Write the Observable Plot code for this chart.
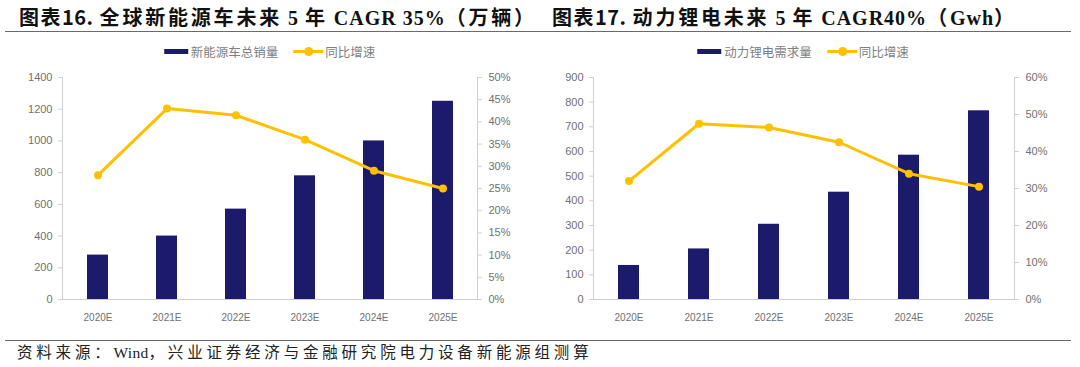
<!DOCTYPE html>
<html>
<head>
<meta charset="utf-8">
<script src="https://cdn.jsdelivr.net/npm/d3@7"></script>
<script src="https://cdn.jsdelivr.net/npm/@observablehq/plot@0.6"></script>
<style>
  html, body { margin: 0; padding: 0; background: #fff; }
  #root { position: relative; width: 1080px; height: 367px; overflow: hidden; }
  .title { position: absolute; top: 4px; font-size: 20px; font-weight: bold; color: #111; white-space: nowrap; line-height: 26px; }
  .cjk { font-family: "Noto Sans CJK SC", sans-serif; }
  .ser { font-family: "Liberation Serif", "Noto Sans CJK SC", serif; }
  .hr { position: absolute; left: 5px; width: 1066px; height: 0; border-top: 1.5px solid #6a6a6a; }
  .legend { position: absolute; top: 43px; height: 16px; display: flex; align-items: center; font-family: "Noto Sans CJK SC", sans-serif; font-size: 12.5px; color: #808080; white-space: nowrap; transform: translateX(-50%); }
  .sw-bar { display: inline-block; width: 24px; height: 5px; margin-right: 3px; }
  .sw-line { display: inline-block; position: relative; width: 30px; height: 3px; margin: 0 2px 0 15px; }
  .sw-line i { position: absolute; left: 11px; top: -3px; width: 9px; height: 9px; border-radius: 50%; }
  .panel { position: absolute; top: 62px; }
  .caption { position: absolute; left: 17px; top: 341px; font-size: 15.5px; color: #222; white-space: nowrap; line-height: 24px; }
</style>
</head>
<body>
<div id="root"></div>
<script>
// ---------- data ----------
const years = ["2020E", "2021E", "2022E", "2023E", "2024E", "2025E"];

// Panel 1: global NEV sales (10k units) and YoY growth
const evSales = [280, 400, 570, 780, 1000, 1250];
const evGrowth = [0.28, 0.43, 0.415, 0.36, 0.29, 0.25];
const evTicks = [0, 200, 400, 600, 800, 1000, 1200, 1400];
const evPctTicks = [0, 0.05, 0.10, 0.15, 0.20, 0.25, 0.30, 0.35, 0.40, 0.45, 0.50];

// Panel 2: power battery demand (GWh) and YoY growth
const batDemand = [138, 205, 305, 435, 585, 765];
const batGrowth = [0.32, 0.475, 0.465, 0.425, 0.34, 0.305];
const batTicks = [0, 100, 200, 300, 400, 500, 600, 700, 800, 900];
const batPctTicks = [0, 0.10, 0.20, 0.30, 0.40, 0.50, 0.60];

const titles = [
  ["图表16.", " 全球新能源车未来 5 年 CAGR 35%（万辆）"],
  ["图表17.", " 动力锂电未来 5 年 CAGR40%（Gwh）"]
];
const barNames = ["新能源车总销量", "动力锂电需求量"];
const lineName = "同比增速";
const caption = "资料来源：Wind，兴业证券经济与金融研究院电力设备新能源组测算";

const BAR = "#1c1a6b";
const LINE = "#ffc000";
const AXIS = "#d0d0d0";
const TXT = "#707070";

const root = document.getElementById("root");

// wrap runs of CJK / Latin text in spans with different letter-spacing
function spaced(text, cjkLS, latLS) {
  const re = /([\u3000-\u9fff\uff00-\uffef]+)|([^\u3000-\u9fff\uff00-\uffef]+)/g;
  let out = "", m;
  while ((m = re.exec(text))) {
    if (m[1]) out += `<span style="letter-spacing:${cjkLS}px">${m[1]}</span>`;
    else out += `<span style="letter-spacing:${latLS}px">${m[2]}</span>`;
  }
  return out;
}

function panel({values, growth, ticks, pctTicks, left, ml, mr}) {
  const yMax = ticks[ticks.length - 1];
  const pMax = pctTicks[pctTicks.length - 1];
  const k = yMax / pMax;
  const rows = years.map((y, i) => ({year: y, v: values[i], g: growth[i] * k}));
  const chart = Plot.plot({
    width: 540,
    height: 270,
    marginTop: 15,
    marginBottom: 33,
    marginLeft: ml,
    marginRight: mr,
    style: {fontFamily: "'Liberation Sans', Arial, sans-serif", background: "transparent"},
    x: {domain: years, paddingInner: 0.7, paddingOuter: 0.35, label: null},
    y: {domain: [0, yMax], label: null},
    marks: [
      Plot.barY(rows, {x: "year", y: "v", fill: BAR}),
      Plot.frame({anchor: "left", stroke: AXIS}),
      Plot.frame({anchor: "right", stroke: AXIS}),
      Plot.ruleY([0], {stroke: AXIS}),
      Plot.axisY({ticks, anchor: "left", tickSize: 4, tickPadding: 6, stroke: AXIS, fill: TXT, fontSize: 11, label: null, tickFormat: d => String(d)}),
      Plot.axisY({ticks: pctTicks.map(p => p * k), anchor: "right", tickSize: 4, tickPadding: 7, stroke: AXIS, fill: TXT, fontSize: 11, label: null,
        tickFormat: d => Math.round(d / k * 100) + "%"}),
      Plot.axisX({tickSize: 0, tickPadding: 14, fill: TXT, fontSize: 10, label: null}),
      Plot.line(rows, {x: "year", y: "g", stroke: LINE, strokeWidth: 3}),
      Plot.dot(rows, {x: "year", y: "g", fill: LINE, r: 4})
    ]
  });
  const div = document.createElement("div");
  div.className = "panel";
  div.style.left = left + "px";
  div.appendChild(chart);
  root.appendChild(div);
}

panel({values: evSales, growth: evGrowth, ticks: evTicks, pctTicks: evPctTicks, left: 0, ml: 62, mr: 63});
panel({values: batDemand, growth: batGrowth, ticks: batTicks, pctTicks: batPctTicks, left: 540, ml: 53, mr: 66});

// titles
[19, 552].forEach((x, i) => {
  const t = document.createElement("div");
  t.className = "title";
  t.style.left = x + "px";
  t.innerHTML = `<span class="cjk">${spaced(titles[i][0], 1.5, 0.5)}</span><span class="ser">${spaced(titles[i][1], 2.8, 1)}</span>`;
  root.appendChild(t);
});

// legends
[269.5, 803].forEach((cx, i) => {
  const l = document.createElement("div");
  l.className = "legend";
  l.style.left = cx + "px";
  l.innerHTML = `<span class="sw-bar" style="background:${BAR}"></span><span>${barNames[i]}</span>` +
    `<span class="sw-line" style="background:${LINE}"><i style="background:${LINE}"></i></span><span>${lineName}</span>`;
  root.appendChild(l);
});

// rules
[31, 340].forEach(y => {
  const h = document.createElement("div");
  h.className = "hr";
  h.style.top = y + "px";
  root.appendChild(h);
});

const c = document.createElement("div");
c.className = "caption ser";
c.innerHTML = spaced(caption, 3.8, 0.3);
root.appendChild(c);
</script>
</body>
</html>
